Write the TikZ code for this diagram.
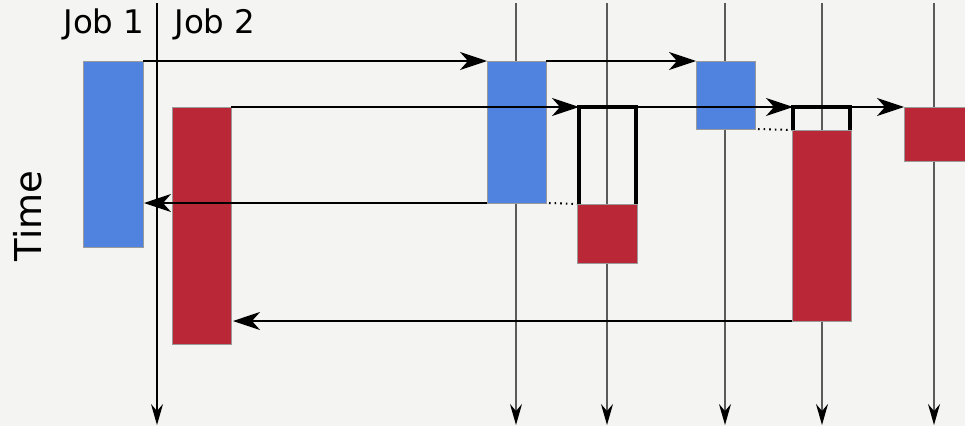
\documentclass[tikz,border=0pt]{standalone}
\usepackage{fontspec}
\setmainfont{DejaVu Sans}
\usetikzlibrary{arrows.meta}
\definecolor{bg}{HTML}{F4F4F2}
\definecolor{jobblue}{HTML}{5083DF}
\definecolor{jobred}{HTML}{BA2838}
\definecolor{boxedge}{HTML}{9A9A9A}
\definecolor{axisgray}{HTML}{5A5A5A}
\tikzset{
  box/.style={draw=boxedge, line width=0.9pt, inner sep=0pt, outer sep=0pt, anchor=north west},
  bluebox/.style={box, fill=jobblue},
  redbox/.style={box, fill=jobred},
  ghost/.style={inner sep=0pt, outer sep=0pt, anchor=north west},
  axis/.style={line width=1.4pt, -{Stealth[length=21pt, width=12pt, inset=7pt, color=black]}},
  msg/.style={line width=1.7pt, black, -{Stealth[length=27pt, width=18pt, inset=8pt]}},
  outline/.style={line width=3.2pt, black},
  waitdots/.style={line width=2pt, black, dash pattern=on 1.6pt off 4pt},
  lbl/.style={font=\fontsize{32.5}{33}\selectfont, anchor=base, inner sep=0pt}
}
\begin{document}
\begin{tikzpicture}[x=1pt, y=-1pt]
\fill[bg] (0,0) rectangle (965,426);
\useasboundingbox (0,0) rectangle (965,426);
% labels
\node[lbl] (job1) at (104,33) {Job 1};
\node[lbl] (job2) at (215,33) {Job 2};
\node[lbl, rotate=90, font=\fontsize{37}{37}\selectfont] (time) at (41,216) {Time};
% time axes
\coordinate (a1t) at (157,3);   \coordinate (a1b) at (157,425);
\coordinate (a2t) at (516,3);   \coordinate (a2b) at (516,425);
\coordinate (a3t) at (607,3);   \coordinate (a3b) at (607,425);
\coordinate (a4t) at (725,3);   \coordinate (a4b) at (725,425);
\coordinate (a5t) at (822,3);   \coordinate (a5b) at (822,425);
\coordinate (a6t) at (934,3);   \coordinate (a6b) at (934,425);
\draw[axis, black] (a1t) -- (a1b);
\draw[axis, axisgray] (a2t) -- (a2b);
\draw[axis, axisgray] (a3t) -- (a3b);
\draw[axis, axisgray] (a4t) -- (a4b);
\draw[axis, axisgray] (a5t) -- (a5b);
\draw[axis, axisgray] (a6t) -- (a6b);
% boxes
\node[bluebox, minimum width=60pt, minimum height=186pt] (b1) at (83,61) {};
\node[redbox,  minimum width=59pt, minimum height=237pt] (r2) at (172,107) {};
\node[bluebox, minimum width=59pt, minimum height=142pt] (b3) at (487,61) {};
\node[ghost,   minimum width=57pt, minimum height=97pt]  (o1) at (579,107) {};
\node[redbox,  minimum width=60pt, minimum height=59pt]  (r4) at (577,204) {};
\node[bluebox, minimum width=59pt, minimum height=68pt]  (b5) at (696,61) {};
\node[ghost,   minimum width=57pt, minimum height=23pt]  (o2) at (793,107) {};
\node[redbox,  minimum width=59pt, minimum height=191pt] (r6) at (792,130) {};
\node[redbox,  minimum width=61pt, minimum height=54pt]  (r7) at (904,107) {};
% open waiting boxes
\draw[outline] (o1.south west) -- (o1.north west) -- (o1.north east) -- (o1.south east);
\draw[outline] (o2.south west) -- (o2.north west) -- (o2.north east) -- (o2.south east);
% waiting dots
\draw[waitdots] ([xshift=3pt]b3.south east) -- (r4.north west);
\draw[waitdots] ([xshift=3pt]b5.south east) -- (r6.north west);
% messages
\draw[msg] (b1.north east) -- (b3.north west);
\draw[msg] (b3.north east) -- (b5.north west);
\draw[msg] (r2.north east) -- (o1.north west);
\draw[msg] (o1.north east) -- (o2.north west);
\draw[msg] (o2.north east) -- (r7.north west);
% returns
\draw[msg] (b3.south west) -- ([xshift=1pt]b1.east |- b3.south west);
\draw[msg] (r6.south west) -- ([xshift=2pt]r2.east |- r6.south west);
\end{tikzpicture}
\end{document}
